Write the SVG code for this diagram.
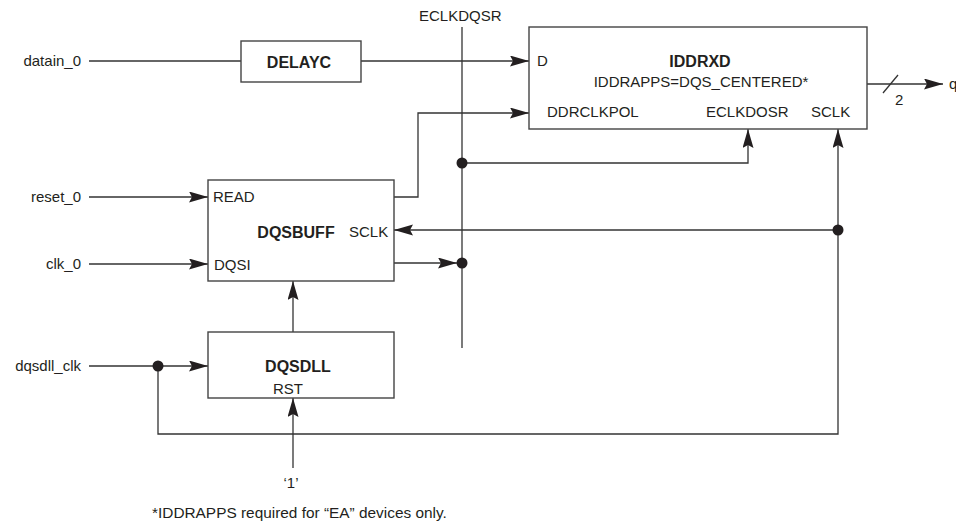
<svg xmlns="http://www.w3.org/2000/svg" width="956" height="525" viewBox="0 0 956 525">
<defs>
<style>
.box{fill:#fff;stroke:#444;stroke-width:1.4}
.w{fill:none;stroke:#333;stroke-width:1.3}
.a{marker-end:url(#arr)}
.t{font-family:"Liberation Sans",Arial,sans-serif;font-size:15px;fill:#231f20}
.b{font-family:"Liberation Sans",Arial,sans-serif;font-size:16px;font-weight:bold;fill:#231f20}
.dot{fill:#231f20}
</style>
<marker id="arr" markerUnits="userSpaceOnUse" markerWidth="20" markerHeight="12" refX="19" refY="5.5" orient="auto">
<path d="M0,0 L19,5.5 L0,11 L3,5.5 z" fill="#231f20"/>
</marker>
</defs>
<rect width="956" height="525" fill="#fff"/>
<g id="connectors">
<path class="w" d="M89,61 H241"/>
<path class="w a" d="M361,61 H529"/>
<path class="w" d="M462,27 V348"/>
<path class="w a" d="M462,163 H748 V129"/>
<path class="w a" d="M394,197 H418 V113 H529"/>
<path class="w a" d="M89,197 H208"/>
<path class="w a" d="M89,264 H208"/>
<path class="w a" d="M394,263 H457"/>
<path class="w a" d="M838,230 H394"/>
<path class="w a" d="M89,366 H208"/>
<path class="w a" d="M158,366 V434 H838 V129"/>
<path class="w a" d="M293,332 V281"/>
<path class="w a" d="M293,468 V398"/>
<path class="w a" d="M867,84 H943"/>
<path class="w" d="M883,93 L898,75"/>
<circle class="dot" cx="462" cy="163" r="5.5"/>
<circle class="dot" cx="462" cy="263" r="5.5"/>
<circle class="dot" cx="838" cy="230" r="5.5"/>
<circle class="dot" cx="158" cy="366" r="5.5"/>
</g>
<g id="labels">
<text class="t" x="419" y="21">ECLKDQSR</text>
<text class="t" x="81" y="66" text-anchor="end">datain_0</text>
<text class="t" x="81" y="202" text-anchor="end">reset_0</text>
<text class="t" x="81" y="269" text-anchor="end">clk_0</text>
<text class="t" x="81" y="371" text-anchor="end">dqsdll_clk</text>
<text class="t" x="291" y="488" text-anchor="middle">‘1’</text>
<text class="t" x="895" y="105">2</text>
<text class="t" x="949" y="89">q</text>
<text class="t" x="152" y="518" style="font-size:15.4px">*IDDRAPPS required for “EA” devices only.</text>
</g>
<g id="DELAYC">
<rect class="box" x="241" y="41" width="120" height="41"/>
<text class="b" x="299" y="68" text-anchor="middle">DELAYC</text>
</g>
<g id="IDDRXD">
<rect class="box" x="529" y="27" width="338" height="102"/>
<text class="b" x="700" y="67" text-anchor="middle">IDDRXD</text>
<text class="t" x="701" y="87" text-anchor="middle">IDDRAPPS=DQS_CENTERED*</text>
<text class="t" x="537" y="66">D</text>
<text class="t" x="547" y="117">DDRCLKPOL</text>
<text class="t" x="706" y="117">ECLKDOSR</text>
<text class="t" x="811" y="117">SCLK</text>
</g>
<g id="DQSBUFF">
<rect class="box" x="208" y="180" width="186" height="101"/>
<text class="t" x="213" y="202">READ</text>
<text class="b" x="296" y="238" text-anchor="middle">DQSBUFF</text>
<text class="t" x="349" y="237">SCLK</text>
<text class="t" x="214" y="270">DQSI</text>
</g>
<g id="DQSDLL">
<rect class="box" x="208" y="332" width="186" height="66"/>
<text class="b" x="298" y="372" text-anchor="middle">DQSDLL</text>
<text class="t" x="288" y="394" text-anchor="middle">RST</text>
</g>
</svg>
